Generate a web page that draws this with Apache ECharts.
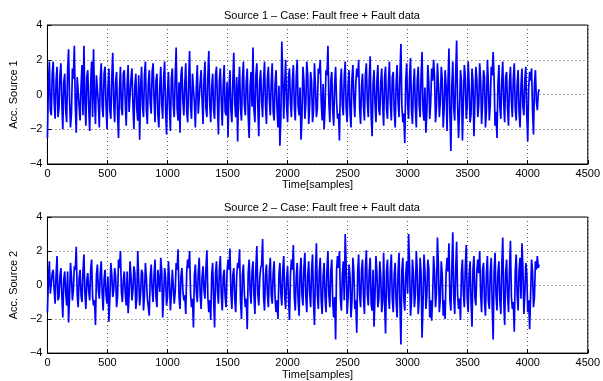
<!DOCTYPE html>
<html>
<head>
<meta charset="utf-8">
<script src="https://cdn.jsdelivr.net/npm/echarts@6/dist/echarts.min.js"></script>
<style>html,body{margin:0;padding:0;background:#fff}#c{width:603px;height:381px}</style>
</head>
<body>
<div id="c"></div>
<script>
// read-off points: main values every 16 samples, in-between values at +8 samples
const sampleStep = 16;
const lastSample = 4095;
const titles = ['Source 1 \u2013 Case: Fault free + Fault data', 'Source 2 \u2013 Case: Fault free + Fault data'];
const yNames = ['Acc. Source 1', 'Acc. Source 2'];
const xName = 'Time[samples]';
const xTicks = [0, 500, 1000, 1500, 2000, 2500, 3000, 3500, 4000, 4500];
const yTicks = [-4, -2, 0, 2, 4];

const source1 = [
-2.5,1.9,-1.2,1.9,-1.4,1.6,-0.8,1.8,-2.0,1.2,-1.6,2.6,-1.9,1.5,2.8,-2.2,
1.1,-1.5,1.7,2.8,-1.8,1.4,-2.1,1.9,2.6,-1.7,1.2,-1.9,1.8,-1.3,1.6,-2.0,
1.5,-1.4,2.4,-1.6,1.3,-2.5,1.6,-1.2,1.4,-1.8,1.7,-1.1,1.5,-2.0,1.2,-1.5,
-2.6,1.6,-1.3,1.9,-1.7,1.4,-1.1,1.8,-1.6,1.2,-1.9,1.6,-1.4,1.9,-2.3,1.3,
-2.1,1.5,-1.3,2.7,-1.5,-2.2,1.6,-1.2,1.8,-1.6,2.5,-1.4,1.3,-1.9,1.7,-1.2,
1.4,-1.7,1.9,-1.3,2.5,-1.6,1.2,-1.4,1.6,-2.3,1.5,-1.8,1.7,-1.2,-2.45,1.4,
-1.6,2.4,-1.3,-2.7,1.6,-1.5,1.9,-1.2,1.5,-2.5,1.3,2.7,-1.6,1.8,-2.4,1.4,
-1.3,1.9,-1.7,1.6,-1.2,1.8,-1.5,1.4,-1.9,-2.95,3.05,-1.4,2.0,-1.6,1.5,-1.3,
1.7,-1.5,2.0,-1.2,-2.6,1.6,-1.4,1.9,-1.7,1.3,-1.6,1.8,-1.3,1.5,2.0,-1.5,
-2.0,1.4,2.8,-1.6,1.3,-1.8,1.6,-1.4,-2.65,1.5,-1.2,1.9,-1.6,1.4,-1.9,1.7,
-1.3,1.5,2.0,-1.7,1.2,-1.5,1.8,-1.3,2.2,-2.4,1.4,-1.6,1.7,-1.2,1.5,-1.8,
1.6,-1.4,1.9,-1.5,1.3,-1.9,1.7,-1.3,2.9,-1.6,-2.8,1.8,-1.4,2.1,-1.7,1.5,
-1.9,1.6,-1.3,2.45,-1.5,-2.2,1.7,-1.4,1.5,2.0,-1.6,1.8,-1.3,1.6,-1.9,1.4,
-2.1,2.65,-3.25,1.9,-1.5,3.1,-2.5,1.4,-2.65,1.7,-1.4,1.9,-1.6,1.5,-2.4,1.6,
-1.3,1.8,-1.7,1.4,-1.9,2.0,-1.5,1.6,2.45,-1.8,-2.5,1.7,-1.4,1.9,-1.6,1.3,
-1.8,1.6,-1.3,1.8,-1.5,1.4,-1.9,1.5,-1.2,1.6,-2.7,1.3,1.5,-2.3,1.4,-0.9,0.3
];
const source1Mid = [
0.6,-0.9,1.2,-0.4,0.8,-1.3,1.1,-0.5,0.7,-0.9,1.4,-0.3,-1.1,0.9,-0.6,1.0,
-0.7,0.5,-1.2,-0.4,1.0,-0.8,0.6,-1.3,-0.2,1.1,-0.5,0.9,-0.7,1.2,-0.6,0.4,
-0.9,1.0,-0.5,0.7,-1.1,0.3,-0.8,1.2,-0.4,0.6,-1.0,0.9,-0.6,0.5,-0.8,1.1,
0.4,-0.7,1.1,-0.9,0.6,-0.5,1.3,-0.3,0.8,-1.2,0.5,-0.6,1.0,-0.9,0.2,-0.7,
0.9,-0.6,1.0,-0.8,0.7,1.1,-0.4,0.6,-1.0,0.8,-0.7,1.2,-0.5,0.4,-1.1,0.7,
-0.3,0.9,-0.8,1.0,-0.6,0.4,-0.9,1.1,-0.5,0.8,-0.4,0.6,-1.0,0.7,0.3,-0.9,
0.7,-0.5,1.0,0.4,-0.8,0.9,-0.6,0.7,-1.2,0.5,-0.7,-0.9,1.1,-0.6,0.8,-0.4,
0.8,-0.6,0.9,-0.3,0.7,-1.0,0.6,-0.8,0.5,-1.4,0.9,0.6,-0.7,1.0,-0.5,0.8,
-0.6,1.0,-0.7,0.4,-1.2,0.8,-0.5,1.1,-0.6,0.7,-0.9,0.5,-0.8,1.2,-0.4,0.6,
-0.7,1.1,-0.5,0.8,-0.9,0.6,-0.4,-1.1,0.7,-0.6,1.0,-0.8,0.5,-1.0,0.9,-0.3,
0.6,1.0,-0.8,0.5,-0.7,1.1,-0.4,0.9,-1.2,0.6,-0.5,0.8,-0.9,0.7,-0.6,1.0,
-0.8,0.7,-0.5,1.0,-0.9,0.6,-0.4,1.2,-0.7,-1.1,0.8,-0.6,1.0,-0.9,0.5,-0.7,
0.8,-0.6,1.1,-0.9,0.4,-1.0,0.7,-0.5,0.8,1.0,-0.7,0.6,-0.4,0.9,-0.8,0.5,
0.7,-1.1,0.5,-0.8,1.2,-0.6,-0.9,0.8,-0.5,1.0,-0.7,0.6,-1.1,0.7,-0.4,0.9,
-0.6,0.8,-0.5,1.0,-0.9,0.7,-0.6,1.1,0.9,-1.0,0.6,-0.7,0.8,-0.5,1.0,-0.8,
0.7,-0.4,0.9,-0.8,0.6,-1.0,0.5,-0.7,0.9,-1.1,0.4,0.8,-0.9,0.6,-0.4,0.1
];

const source2 = [
-1.6,1.4,-0.6,0.9,-1.1,1.7,-0.7,1.0,-1.9,0.8,-1.2,-2.2,1.3,-0.9,1.1,2.25,
-1.3,0.9,-1.0,1.8,-1.4,0.7,-0.9,1.5,-1.2,-2.35,1.2,-0.8,1.4,-1.5,0.9,-1.1,
-2.15,1.3,-0.7,1.0,-1.3,1.5,2.0,-1.0,0.8,-1.2,-1.65,1.4,-0.9,1.1,-1.4,2.0,
-1.2,0.9,-1.5,1.3,-0.8,-1.8,1.2,-1.0,1.5,-1.3,0.8,1.6,-1.9,1.0,-1.2,1.4,
-1.5,0.9,-1.1,1.3,2.1,-1.4,1.0,-0.9,-1.7,1.5,2.0,-1.3,-2.5,1.2,-1.0,1.6,
-1.4,1.1,-0.8,2.05,-1.6,-2.05,1.3,-2.5,1.4,-1.1,1.7,-1.5,0.9,-1.3,1.5,2.15,
-1.4,1.0,-1.6,1.3,2.1,-2.0,1.2,-1.3,-2.6,1.5,-1.1,1.4,-1.7,2.3,-1.2,1.0,
2.7,-1.5,1.2,-1.3,1.6,-1.1,1.4,-1.6,-2.0,1.3,-1.2,1.7,-1.4,1.1,-2.05,1.5,
2.35,-1.5,1.3,-1.8,1.6,-1.2,1.9,-1.6,1.4,-1.3,1.8,-2.35,2.45,-1.4,1.6,-1.7,
1.3,-1.6,2.0,-1.3,1.5,-1.9,-3.2,1.7,2.0,-1.5,1.4,3.0,-1.7,1.2,-1.9,1.6,
-1.4,-2.8,1.8,-1.3,1.5,-1.7,2.05,-1.2,1.6,-1.5,-2.45,1.7,-1.3,1.4,-1.6,1.9,
-2.85,1.5,-1.4,1.8,-1.6,1.3,-1.9,1.9,-3.5,1.6,-1.5,1.4,3.0,-1.8,1.5,-1.3,
2.0,-1.7,1.6,-3.1,1.8,-1.4,1.5,-1.9,-2.1,1.7,-1.3,2.8,-1.6,1.4,-1.8,-2.0,
1.6,2.45,-1.5,3.1,-1.7,2.55,-1.4,-2.05,1.5,-1.3,2.35,-1.6,1.4,-2.45,1.7,-1.2,
1.5,2.0,-1.6,1.3,-1.8,1.7,-1.4,1.6,-3.2,1.9,-1.5,1.4,-1.7,2.8,-2.35,1.5,
-1.6,2.6,-1.4,-2.75,1.8,-1.5,1.6,2.45,-1.7,1.3,-1.6,-2.6,1.5,-1.3,1.4,1.7,1.2
];
const source2Mid = [
0.4,-0.5,0.7,-0.3,0.6,-0.9,0.5,-0.6,0.3,-0.4,0.8,-0.7,0.5,-0.3,0.9,-0.6,
0.4,-0.6,0.8,-0.5,0.3,-0.4,0.9,-0.7,-0.9,0.6,-0.3,0.7,-0.5,0.4,-0.6,0.5,
-0.8,0.6,-0.3,0.5,-0.7,1.0,-0.4,0.3,-0.5,0.8,-0.6,0.5,-0.3,0.7,-0.8,0.4,
-0.5,0.7,-0.6,0.4,-0.9,0.5,-0.3,0.6,-0.7,0.9,-0.4,0.8,-0.6,0.5,-0.7,0.3,
-0.6,0.8,-0.4,0.9,-0.7,0.5,-0.3,-0.6,0.8,1.0,-0.5,-0.8,0.6,-0.4,0.7,-0.6,
0.5,-0.3,1.0,-0.7,-0.9,0.6,-0.8,0.7,-0.4,0.9,-0.6,0.5,-0.7,0.8,0.9,-0.5,
0.6,-0.8,0.5,1.0,-0.9,0.6,-0.5,-0.8,0.7,-0.4,0.8,-0.6,1.0,-0.5,0.4,1.2,
-0.7,0.6,-0.5,0.8,-0.6,0.7,-0.8,-0.9,0.6,-0.5,0.9,-0.7,0.4,-0.8,0.6,0.9,
-0.7,0.5,-0.9,0.8,-0.6,1.0,-0.7,0.6,-0.5,0.9,-1.0,0.7,-0.6,0.8,-0.9,0.5,
-0.7,0.9,-0.6,0.8,-1.0,-0.7,0.9,1.0,-0.8,0.6,-0.9,1.1,-0.7,0.5,-1.0,0.8,
-0.9,0.8,-0.6,0.9,-0.7,1.0,-0.5,0.8,-1.1,0.9,-0.6,0.7,-0.8,0.5,-0.9,-1.0,
0.8,-0.7,0.9,-0.8,0.6,-1.0,0.7,-1.2,0.9,-0.8,0.6,-0.5,1.1,-0.9,0.7,-0.6,
0.9,-0.8,0.7,-1.1,0.8,-0.6,1.0,-0.9,-0.7,0.8,-0.5,1.2,-0.8,0.6,-0.9,0.7,
0.8,-0.9,1.0,-0.7,0.9,-0.6,-0.8,0.7,-0.5,1.0,-0.8,0.6,-1.0,0.9,-0.7,0.8,
0.7,-0.6,0.9,-1.0,0.7,-0.9,0.8,-1.2,0.8,-0.6,0.7,-0.9,1.1,-0.8,0.7,-0.6,
0.9,-0.7,-1.0,0.8,-0.6,0.9,-0.8,1.0,-0.5,0.7,-0.9,-0.6,0.8,-0.7,0.9,1.0
];

function pairs(main, mid) {
  const out = [];
  for (let i = 0; i < main.length; i++) {
    out.push([Math.min(i * sampleStep, lastSample), main[i]]);
    if (i < mid.length) out.push([i * sampleStep + sampleStep / 2, mid[i]]);
  }
  return out;
}
const fmtMinus = v => String(v).replace('-', '\u2212');

const font = 'Liberation Sans, Arial, Helvetica, sans-serif';
const gridTops = [25, 217];
const gridH = 139;
const gridLeft = 44;
const gridW = 546;

const chart = echarts.init(document.getElementById('c'), null, {renderer: 'canvas'});
const option = {
  animation: false,
  backgroundColor: '#fff',
  title: titles.map((t, k) => ({
    text: t,
    left: gridLeft + gridW / 2,
    top: gridTops[k] - 20,
    textAlign: 'center',
    textStyle: {fontSize: 11, fontWeight: 'normal', color: '#000', fontFamily: font}
  })),
  grid: gridTops.map(t => ({
    left: gridLeft, top: t, width: gridW, height: gridH,
    show: true, borderColor: '#000', borderWidth: 1, backgroundColor: 'transparent'
  })),
  xAxis: [0, 1].map(k => ({
    type: 'value', gridIndex: k, min: xTicks[0], max: xTicks[xTicks.length - 1], interval: 500,
    name: xName, nameLocation: 'middle', nameGap: 14,
    nameTextStyle: {fontSize: 11, color: '#000', fontFamily: font},
    axisLine: {show: true, onZero: false, lineStyle: {color: '#000', width: 1}},
    axisTick: {show: true, inside: true, length: 4, lineStyle: {color: '#000'}},
    axisLabel: {fontSize: 11, color: '#000', fontFamily: font, margin: 4, formatter: v => String(v)},
    splitLine: {show: true, lineStyle: {color: '#555', type: [1, 3], width: 1}}
  })),
  yAxis: [0, 1].map(k => ({
    type: 'value', gridIndex: k, min: yTicks[0], max: yTicks[yTicks.length - 1], interval: 2,
    name: yNames[k], nameLocation: 'middle', nameGap: 24, nameRotate: 90,
    nameTextStyle: {fontSize: 11, color: '#000', fontFamily: font},
    axisLine: {show: true, onZero: false, lineStyle: {color: '#000', width: 1}},
    axisTick: {show: true, inside: true, length: 4, lineStyle: {color: '#000'}},
    axisLabel: {fontSize: 11, color: '#000', fontFamily: font, margin: 5, formatter: fmtMinus},
    splitLine: {show: true, lineStyle: {color: '#555', type: [1, 3], width: 1}}
  })),
  series: [[source1, source1Mid], [source2, source2Mid]].map((s, k) => ({
    type: 'line', xAxisIndex: k, yAxisIndex: k, data: pairs(s[0], s[1]),
    showSymbol: false, symbol: 'none',
    lineStyle: {color: '#0000ff', width: 1.7}, z: 3
  }))
};
chart.setOption(option);
</script>
</body>
</html>
